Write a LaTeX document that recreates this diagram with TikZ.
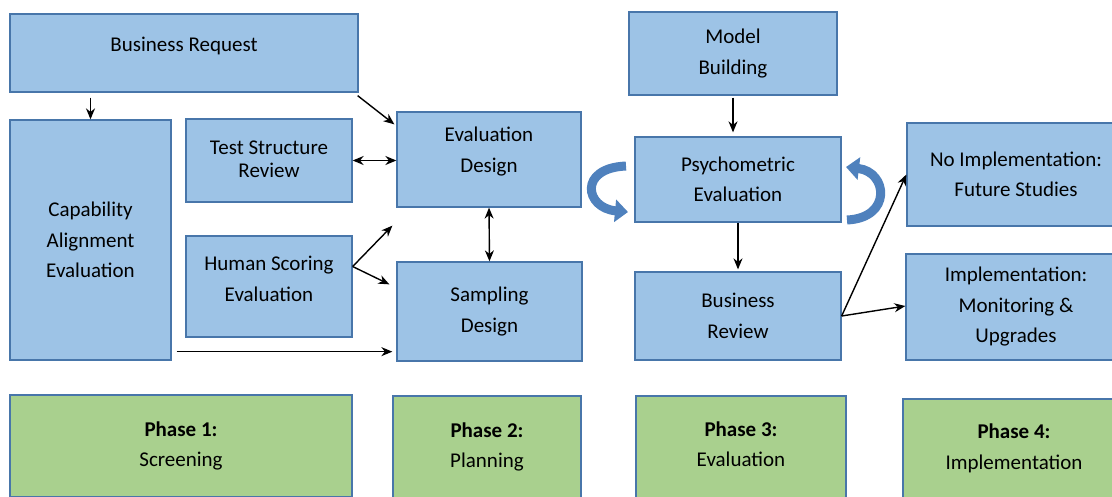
\documentclass[tikz,border=0pt]{standalone}
\usepackage{fontspec}
\setmainfont{Carlito}
\usetikzlibrary{arrows.meta,calc}
\definecolor{boxfill}{RGB}{157,195,230}
\definecolor{boxline}{RGB}{72,118,170}
\definecolor{phasefill}{RGB}{169,208,142}
\definecolor{loopblue}{RGB}{79,129,189}
\begin{document}
\begin{tikzpicture}[x=1pt,y=-1pt,
  every node/.style={font=\fontsize{21}{30.5}\selectfont, align=center, inner sep=0pt},
  bbox/.style={draw=boxline, line width=1.3pt, fill=boxfill},
  pbox/.style={draw=boxline, line width=1.3pt, fill=phasefill},
  conn/.style={draw=black, line width=1.4pt, -{Stealth[length=11pt,width=9pt]}},
  both/.style={conn, {Stealth[length=11pt,width=9pt]}-{Stealth[length=11pt,width=9pt]}},
  loopar/.style={draw=loopblue, line width=9pt, -{Triangle[length=13pt,width=22pt]}}]
\clip (0,0) rectangle (1112,496);
\fill[white] (0,0) rectangle (1112,496);

% process boxes
\node[bbox, minimum width=348pt, minimum height=78pt, text depth=18pt] (br) at (184,53) {Business Request};
\node[bbox, minimum width=161pt, minimum height=240pt] (cap) at (90.5,240) {Capability\\Alignment\\Evaluation};
\node[bbox, minimum width=166pt, minimum height=83pt, text depth=3pt] (tsr) at (269,160.5) {Test Structure\\[-7pt]Review};
\node[bbox, minimum width=166pt, minimum height=101pt, text depth=15pt] (hse) at (269,286.5) {Human Scoring\\Evaluation};
\node[bbox, minimum width=184pt, minimum height=95pt, text depth=20pt] (ed) at (489,159.5) {Evaluation\\Design};
\node[bbox, minimum width=185pt, minimum height=99pt] (sd) at (489.5,311.5) {Sampling\\Design};
\node[bbox, minimum width=208pt, minimum height=83pt] (mb) at (733,53.5) {Model\\Building};
\node[bbox, minimum width=206pt, minimum height=85pt] (pe) at (738,179.5) {Psychometric\\Evaluation};
\node[bbox, minimum width=206pt, minimum height=88pt] (brv) at (738,316) {Business\\Review};
\node[bbox, minimum width=218pt, minimum height=103pt] (ni) at (1016,174.5) {No Implementation:\\Future Studies};
\node[bbox, minimum width=220pt, minimum height=106pt] (impl) at (1016,307) {Implementation:\\Monitoring \&\\Upgrades};

% phase boxes
\node[pbox, minimum width=342pt, minimum height=102pt] (p1) at (181,446) {\textbf{Phase 1:}\\Screening};
\node[pbox, minimum width=188pt, minimum height=102pt] (p2) at (487,447) {\textbf{Phase 2:}\\Planning};
\node[pbox, minimum width=210pt, minimum height=102pt, text depth=6pt] (p3) at (741,447) {\textbf{Phase 3:}\\Evaluation};
\node[pbox, minimum width=222pt, minimum height=102pt, text depth=7pt] (p4) at (1014,450) {\textbf{Phase 4:}\\Implementation};

% connectors
\draw[conn] ([shift={(0,5)}]br.south -| cap.north) -- (cap.north);
\draw[conn] ([shift={(-1,3)}]br.south east) -- ([shift={(-2,13)}]ed.north west);
\draw[both] (tsr.east) -- (tsr.east -| ed.west);
\draw[conn] ([shift={(0,-20)}]hse.east) -- ([shift={(-4,18)}]ed.south west);
\draw[conn] ([shift={(0,-20)}]hse.east) -- ([shift={(-7,23)}]sd.north west);
\draw[conn] ([shift={(5,-9)}]cap.south east) -- ([shift={(-4,-10)}]sd.south west);
\draw[both] (ed.south) -- (sd.north);
\draw[conn] ([shift={(0,2)}]mb.south) -- ([shift={(0,-4)}]mb.south |- pe.north);
\draw[conn] (pe.south) -- ([shift={(0,-2)}]brv.north);
\draw[conn] (brv.east) -- (ni.west);
\draw[conn] (brv.east) -- ([shift={(0,-1)}]impl.west);

% iteration loops around the psychometric evaluation
\draw[loopar] (626,166) .. controls (578,168) and (585,208) .. (628,212);
\draw[loopar] (847,220) .. controls (892,218) and (888,172) .. (846,167);
\end{tikzpicture}
\end{document}
